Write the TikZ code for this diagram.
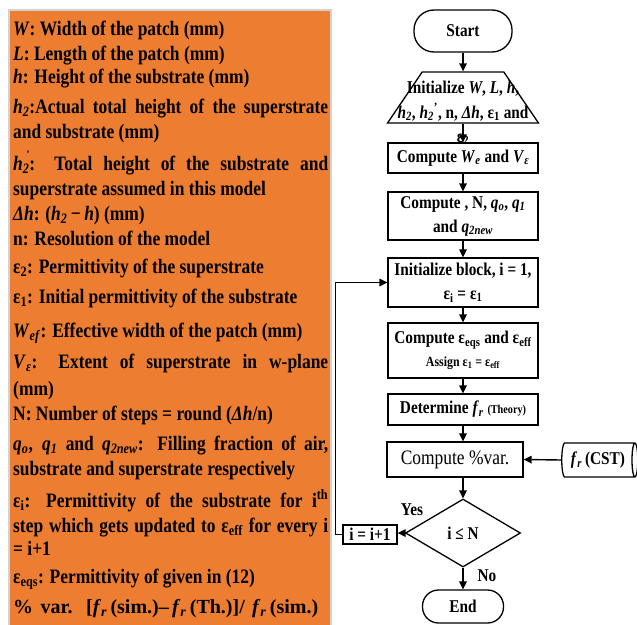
\documentclass[tikz,border=0pt]{standalone}
\usepackage{fontspec}
\setmainfont{Liberation Serif}[FakeStretch=0.85]
\newfontfamily\widefont{Liberation Serif}
\usetikzlibrary{arrows.meta,shapes.geometric}
\definecolor{panelorange}{RGB}{237,125,49}
\newcommand\fcfont{\fontsize{18}{24}\selectfont\bfseries}
\newcommand\lpfont{\fontsize{20.5}{23}\selectfont\bfseries}
\newcommand\jline[1]{\makebox[315pt][s]{#1}}
\begin{document}
\begin{tikzpicture}[x=1pt,y=-1pt,
  ltxt/.style={anchor=base west, inner sep=0pt, font=\lpfont},
  fc/.style={draw, line width=1.3pt, inner sep=0pt, align=center, font=\fcfont},
  ftxt/.style={inner sep=0pt, anchor=base, font=\fcfont},
  arr/.style={line width=1.4pt, -{Triangle[length=8pt,width=7.5pt]}}]
\useasboundingbox (0,0) rectangle (637,624);
% left panel
\draw[fill=panelorange, draw=gray!35, line width=1.5pt] (9,10) rectangle (331,626);
\node[ltxt] (t1) at (13,35) {\textit{W}: Width of the patch (mm)};
\node[ltxt] (t2) at (13,60) {\textit{L}: Length of the patch (mm)};
\node[ltxt] (t3) at (13,83) {\textit{h}: Height of the substrate (mm)};
\node[ltxt] (t4) at (13,113) {\jline{\textit{h}\textsubscript{\textit{2}}:Actual total height of the superstrate}};
\node[ltxt] (t5) at (13,138) {and substrate (mm)};
\node[ltxt] (t6) at (13,170) {\jline{\textit{h}\textsubscript{\textit{2}}\llap{\raisebox{13pt}{\fontsize{10}{10}\selectfont'}}: Total height of the substrate and}};
\node[ltxt] (t7) at (13,195) {superstrate assumed in this model};
\node[ltxt] (t8) at (13,220) {\textit{Δh}: (\textit{h}\textsubscript{\textit{2}}\,−\,\textit{h}) (mm)};
\node[ltxt] (t9) at (13,245) {n: Resolution of the model};
\node[ltxt] (t10) at (13,273) {ε\textsubscript{2}: Permittivity of the superstrate};
\node[ltxt] (t11) at (13,303) {ε\textsubscript{1}: Initial permittivity of the substrate};
\node[ltxt] (t12) at (13,337) {\textit{W}\textsubscript{\textit{ef}}: Effective width of the patch (mm)};
\node[ltxt] (t13) at (13,368) {\jline{\textit{V}\textsubscript{\textit{ε}}: Extent of superstrate in w-plane}};
\node[ltxt] (t14) at (13,395) {(mm)};
\node[ltxt] (t15) at (13,420) {N: Number of steps = round (\textit{Δh}/n)};
\node[ltxt] (t16) at (13,450) {\jline{\textit{q}\textsubscript{\textit{o}}, \textit{q}\textsubscript{\textit{1}} and \textit{q}\textsubscript{\textit{2new}}: Filling fraction of air,}};
\node[ltxt] (t17) at (13,475) {substrate and superstrate respectively};
\node[ltxt] (t18) at (13,507) {\jline{ε\textsubscript{i}: Permittivity of the substrate for i\textsuperscript{th}}};
\node[ltxt] (t19) at (13,532) {\jline{step which gets updated to ε\textsubscript{eff} for every i}};
\node[ltxt] (t20) at (13,555) {= i+1};
\node[ltxt] (t21) at (13,583) {ε\textsubscript{eqs}: Permittivity of given in (12)};
\node[ltxt, font=\widefont\fontsize{20}{23}\selectfont\bfseries] (t22) at (13,613) {\makebox[305pt][s]{\% var. [\textit{f}\textsubscript{\textit{r}}\,(sim.)–\,\textit{f}\textsubscript{\textit{r}}\,(Th.)]/ \textit{f}\textsubscript{\textit{r}}\,(sim.)}};
% flowchart
\node[fc, rounded corners=20pt, minimum width=98pt, minimum height=42pt] (start) at (463,31) {Start};
\node[fc, trapezium, inner sep=3pt, trapezium stretches=true, trapezium angle=67, minimum width=151pt, minimum height=51pt] (init) at (463,97.5) {};
\node[ftxt] (initA) at (463,93) {Initialize \textit{W}, \textit{L}, \textit{h},};
\node[ftxt] (initB) at (463,118) {\textit{h}\textsubscript{\textit{2}}, \textit{h}\textsubscript{\textit{2}}\textsuperscript{'}, n, \textit{Δh}, ε\textsubscript{1} and};
\node[ftxt] (initC) at (463,142) {ε\textsubscript{2}};
\node[fc, minimum width=150pt, minimum height=30pt] (weve) at (463,158) {Compute \textit{W}\textsubscript{\textit{e}} and \textit{V}\textsubscript{\textit{ε}}};
\node[fc, minimum width=150pt, minimum height=48pt] (compN) at (463,216) {Compute , N, \textit{q}\textsubscript{\textit{o}}, \textit{q}\textsubscript{\textit{1}}\\ and \textit{q}\textsubscript{\textit{2new}}};
\node[fc, minimum width=150pt, minimum height=49pt] (initb) at (463,282.5) {Initialize block, i = 1,\\ ε\textsubscript{i} = ε\textsubscript{1}};
\node[fc, minimum width=150pt, minimum height=55pt] (compE) at (463,350.5) {Compute ε\textsubscript{eqs} and ε\textsubscript{eff}\\[-1pt] {\fontsize{14}{15}\selectfont Assign ε\textsubscript{1} = ε\textsubscript{eff}}};
\node[fc, minimum width=150pt, minimum height=31pt] (det) at (463,409.5) {Determine \textit{f}\textsubscript{\textit{r}} {\fontsize{12}{13}\selectfont (Theory)}};
\node[fc, minimum width=136pt, minimum height=35pt, font=\fontsize{20.5}{24}\selectfont] (var) at (455,459.5) {Compute \%var.};
\node[fc, cylinder, shape aspect=0.35, minimum width=34pt, minimum height=76pt] (cst) at (598,460) {\textit{f}\textsubscript{\textit{r}}\,(CST)};
\node[fc, diamond, minimum width=115pt, minimum height=68pt, aspect=1.7] (dec) at (463,533) {i ≤ N};
\node[fc, minimum width=54pt, minimum height=19pt] (inc) at (370,534.5) {i = i+1};
\node[fc, rounded corners=16pt, minimum width=81pt, minimum height=33pt] (endn) at (463,606.5) {End};
\node[ftxt] (yes) at (412,515) {Yes};
\node[ftxt] (no) at (487,581) {No};
\draw[arr] (start) -- (init);
\draw[arr] (init) -- (weve);
\draw[arr] (weve) -- (compN);
\draw[arr] (compN) -- (initb);
\draw[arr] (initb) -- (compE);
\draw[arr] (compE) -- (det);
\draw[arr] (det.south) -- (det.south |- var.north);
\draw[arr] (var.south -| dec.north) -- (dec.north);
\draw[arr] (cst.west) -- (var.east);
\draw[arr] (dec.west) -- (dec.west -| inc.east);
\draw[arr] (dec) -- (endn);
\draw[arr] (inc.west) -- ++(-7,0) |- (initb.west);
\end{tikzpicture}
\end{document}
